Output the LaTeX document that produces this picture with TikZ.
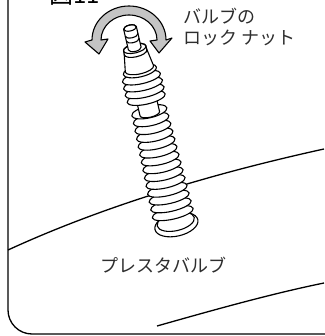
\documentclass[tikz,border=0pt]{standalone}
\usepackage{fontspec}
\newfontfamily\jpfont{Noto Sans CJK JP}
\begin{document}
\begin{tikzpicture}[x=1pt,y=1pt,
  outline/.style={line width=1.1pt, line join=round},
  part/.style={outline, fill=white},
  rimline/.style={line width=1.3pt},
  label/.style={font=\jpfont\fontsize{18}{21}\selectfont, text=black!82, inner sep=0pt},
  turnarrow/.style={line width=1.1pt, fill=black!23, line join=round}]
\useasboundingbox (0,0) rectangle (324,-336);

% figure number (runs off the top edge)
\node[font=\jpfont\fontsize{24}{24}\selectfont, anchor=base west, inner sep=0pt] (fignum) at (49,-4) {図11};

% panel frame with rounded lower-left corner
\draw[rimline] (8,10) -- (8,-310) arc[start angle=180, end angle=270, radius=24] -- (334,-334);

% wheel rim contours
\draw[rimline] (8,-250) .. controls (95,-210) and (201,-176) .. (324,-149);
\draw[rimline] (157,-326) .. controls (210,-311) and (270,-294) .. (324,-283);

% Presta valve, drawn bottom-up along its tilted axis
\begin{scope}[shift={(130,-28)}, rotate=13]
  % base flange
  \draw[part] (1,-202) ellipse[x radius=22, y radius=11.5];
  \draw[outline] (1,-199) ellipse[x radius=19, y radius=9];
  % rubber bellows
  \foreach \s in {190,182,...,86} {
    \pgfmathsetmacro\rx{18+3*(\s-86)/104}
    \draw[part] (0,-\s) ellipse[x radius=\rx, y radius=6];
  }
  % neck
  \draw[part] (-10,-76) -- (-10,-88) arc[start angle=180, end angle=360, x radius=10, y radius=3.5]
    -- (10,-76) arc[start angle=0, end angle=180, x radius=10, y radius=3.5] -- cycle;
  % lock nut
  \foreach \s/\rx in {72/19.5, 65/20, 58/20, 51/19.5, 44/17} {
    \draw[part] (0,-\s) ellipse[x radius=\rx, y radius=6];
  }
  % valve body
  \draw[part] (-11.5,-24) -- (-14.5,-42) arc[start angle=180, end angle=360, x radius=14.5, y radius=5]
    -- (11.5,-24) arc[start angle=0, end angle=180, x radius=11.5, y radius=4.5] -- cycle;
  % collar
  \draw[part] (-11.5,-21) -- (-11.5,-25) arc[start angle=180, end angle=360, x radius=11.5, y radius=4.5]
    -- (11.5,-21) arc[start angle=0, end angle=180, x radius=11.5, y radius=4.5] -- cycle;
  \draw[outline] (0,-21) ellipse[x radius=11.5, y radius=4.5];
  % threaded tip
  \draw[part] (-6.5,0) -- (-6.5,-21) arc[start angle=180, end angle=360, x radius=6.5, y radius=3]
    -- (6.5,0) arc[start angle=0, end angle=180, x radius=6.5, y radius=3] -- cycle;
  \draw[outline] (0,0) ellipse[x radius=6.5, y radius=3];
  \draw[outline] (-6.5,-7) arc[start angle=180, end angle=360, x radius=6.5, y radius=3];
  \draw[outline] (-6.5,-12) arc[start angle=180, end angle=360, x radius=6.5, y radius=3];
\end{scope}

% turning arrow around the lock nut
\draw[turnarrow] (92,-40) arc[start angle=180, end angle=0, x radius=37, y radius=34]
  -- (172,-38) -- (159,-53) -- (150,-41) -- (157,-40)
  arc[start angle=0, end angle=180, x radius=28, y radius=25]
  -- (108,-39) -- (99,-54) -- (85,-42) -- cycle;

% labels
\node[label, anchor=north west, align=left] (locknut) at (183,-8) {バルブの\\ロック ナット};
\node[label] (presta) at (163,-265) {プレスタバルブ};
\end{tikzpicture}
\end{document}
